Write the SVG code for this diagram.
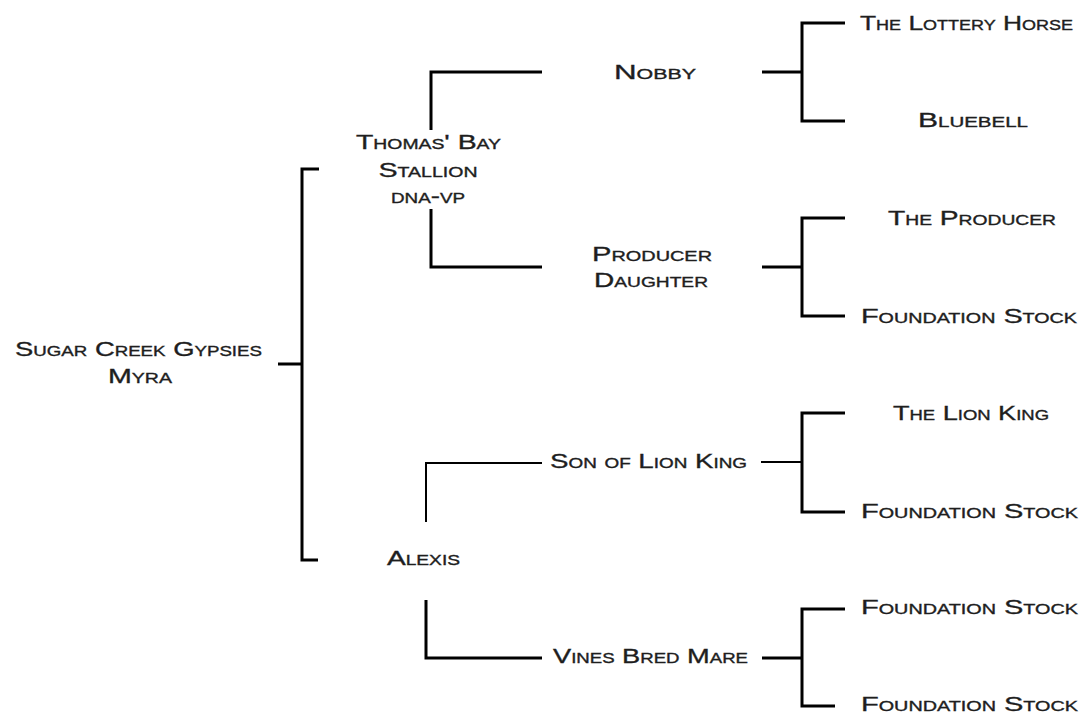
<svg xmlns="http://www.w3.org/2000/svg" width="1090" height="715" viewBox="0 0 1090 715">
<style>
text{font-family:"Liberation Sans",Arial,sans-serif;font-size:20.5px;font-variant:small-caps;fill:#1e1e1e;stroke:#1e1e1e;stroke-width:0.35px;text-anchor:middle}
.c{fill:none;stroke:#000;stroke-width:3;stroke-linecap:butt;stroke-linejoin:miter}
.t{fill:none;stroke:#000;stroke-width:2}
</style>
<rect width="1090" height="715" fill="#fff"/>
<g id="connectors">
<path class="c" d="M278 364H302M319 169H302V560H318"/>
<path class="c" d="M431 130V72H542M431 209V267H542"/>
<path class="c" d="M762 72H802M845 23H802V121H845"/>
<path class="c" d="M762 267H802M845 218H802V316H845"/>
<path class="t" d="M426 522V463H542"/>
<path class="t" d="M761 462H802"/>
<path class="c" d="M845 413H802V512H845"/>
<path class="c" d="M426 600V658H542"/>
<path class="c" d="M762 658H802M845 609H802V706H835"/>
</g>
<g id="node-myra"><text x="138.5" y="356" textLength="247" lengthAdjust="spacingAndGlyphs">Sugar Creek Gypsies</text><text x="140" y="383" textLength="64" lengthAdjust="spacingAndGlyphs">Myra</text></g>
<g id="node-thomas"><text x="428.5" y="149" textLength="145" lengthAdjust="spacingAndGlyphs">Thomas' Bay</text><text x="428" y="177" textLength="99" lengthAdjust="spacingAndGlyphs">Stallion</text><text x="428" y="203" textLength="74" lengthAdjust="spacingAndGlyphs">dna-vp</text></g>
<g id="node-alexis"><text x="423.5" y="565" textLength="73" lengthAdjust="spacingAndGlyphs">Alexis</text></g>
<g id="node-nobby"><text x="655" y="79" textLength="82" lengthAdjust="spacingAndGlyphs">Nobby</text></g>
<g id="node-producer-daughter"><text x="652" y="261" textLength="120" lengthAdjust="spacingAndGlyphs">Producer</text><text x="651" y="287" textLength="114" lengthAdjust="spacingAndGlyphs">Daughter</text></g>
<g id="node-son-lion-king"><text x="648.5" y="468" textLength="197" lengthAdjust="spacingAndGlyphs">Son of Lion King</text></g>
<g id="node-vines"><text x="650.5" y="663" textLength="195" lengthAdjust="spacingAndGlyphs">Vines Bred Mare</text></g>
<g id="node-lottery"><text x="966.5" y="30" textLength="213" lengthAdjust="spacingAndGlyphs">The Lottery Horse</text></g>
<g id="node-bluebell"><text x="973" y="127" textLength="110" lengthAdjust="spacingAndGlyphs">Bluebell</text></g>
<g id="node-producer"><text x="972" y="225" textLength="168" lengthAdjust="spacingAndGlyphs">The Producer</text></g>
<g id="node-fs1"><text x="969" y="323" textLength="216" lengthAdjust="spacingAndGlyphs">Foundation Stock</text></g>
<g id="node-lionking"><text x="971" y="420" textLength="156" lengthAdjust="spacingAndGlyphs">The Lion King</text></g>
<g id="node-fs2"><text x="969.5" y="518" textLength="217" lengthAdjust="spacingAndGlyphs">Foundation Stock</text></g>
<g id="node-fs3"><text x="969.5" y="614" textLength="217" lengthAdjust="spacingAndGlyphs">Foundation Stock</text></g>
<g id="node-fs4"><text x="969.5" y="711" textLength="217" lengthAdjust="spacingAndGlyphs">Foundation Stock</text></g>
</svg>
